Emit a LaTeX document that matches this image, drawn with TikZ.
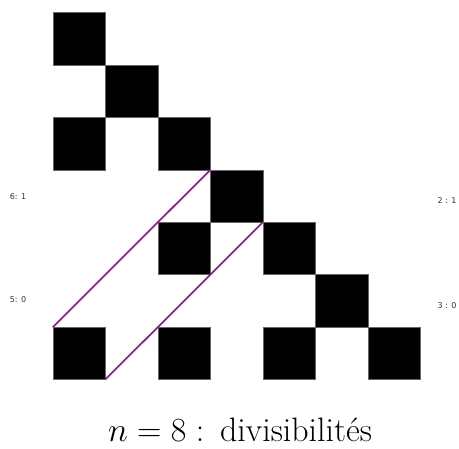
\documentclass[tikz,border=0pt]{standalone}
\usepackage{fontspec}
\newfontfamily\lblfont{DejaVu Sans}
\begin{document}
\begin{tikzpicture}[x=1pt,y=-1pt,
  cell/.style={fill=black,draw=black!60,line width=0.4pt},
  diag/.style={draw={rgb,255:red,140;green,20;blue,140},line width=1.6pt},
  lbl/.style={font=\lblfont\fontsize{8}{9}\selectfont,text=black!80,inner sep=0pt}]
\useasboundingbox (0,0) rectangle (459,449);
\def\cs{52.5}
\foreach \c/\r in {0/0,1/1,0/2,2/2,3/3,2/4,4/4,5/5,0/6,2/6,4/6,6/6}{
  \fill[cell] ({52.7+\c*\cs},{12.6+\r*52.4}) rectangle ++(\cs,52.4);
}
\coordinate (a1) at (52.7,327.2);
\coordinate (a2) at (210.2,170.0);
\coordinate (b1) at (105.2,379.6);
\coordinate (b2) at (262.7,222.4);
\draw[diag] (a1) -- (a2);
\draw[diag] (b1) -- (b2);
\node[lbl] (l61) at (18,197) {6: 1};
\node[lbl] (l50) at (18,300) {5: 0};
\node[lbl] (l21) at (447,201) {2 : 1};
\node[lbl] (l30) at (447,306) {3 : 0};
\node[font=\Huge,scale=1.36,inner sep=0pt] (title) at (240,430) {$n=8:$\,\ divisibilités};
\end{tikzpicture}
\end{document}
